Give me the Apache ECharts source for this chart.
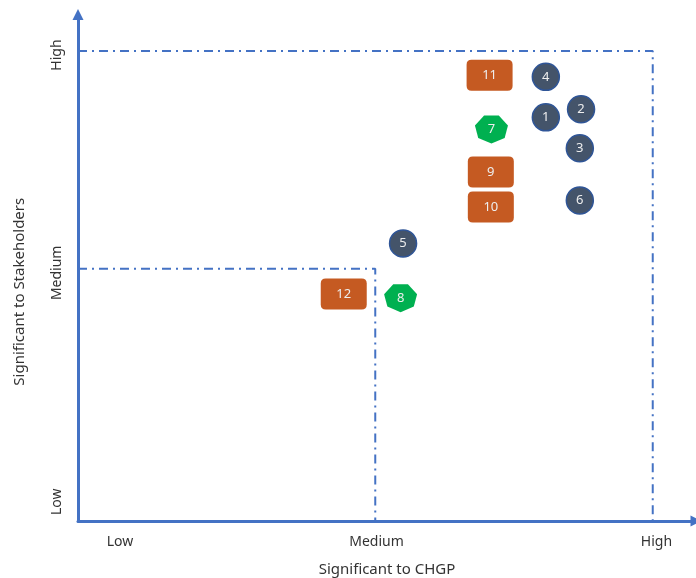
<!DOCTYPE html>
<html>
<head>
<meta charset="utf-8">
<script src="https://cdn.jsdelivr.net/npm/echarts@6/dist/echarts.min.js"></script>
<style>
html,body{margin:0;padding:0;background:#fff;}
#chart{width:696px;height:578px;}
</style>
</head>
<body>
<div id="chart"></div>
<script>
// Significance scores (0-10 scale)
var circleIds = ['1', '2', '3', '4', '5', '6'];
var circleX   = [7.57, 8.14, 8.12, 7.57, 5.26, 8.12];
var circleY   = [7.97, 8.13, 7.36, 8.77, 5.48, 6.33];

var rectIds = ['9', '10', '11', '12'];
var rectX   = [6.68, 6.68, 6.66, 4.30];
var rectY   = [6.89, 6.20, 8.80, 4.48];

var heptIds = ['7', '8'];
var heptX   = [6.69, 5.22];
var heptY   = [7.73, 4.40];

// Threshold levels (Medium / High) on each axis
var xMediumLevel = 4.81, xHighLevel = 9.30;
var yMediumLevel = 4.98, yHighLevel = 9.28;

// Tick labels
var xTickLabels = ['Low', 'Medium', 'High'];
var xTickValues = [0.68, 4.83, 9.36];
var yTickLabels = ['Low', 'Medium', 'High'];
var yTickValues = [0.38, 4.90, 9.20];

function pts(xs, ys, ids) {
  return xs.map(function (x, i) { return [x, ys[i], ids[i]]; });
}

var heptPath = 'path://M43.39,-90.1L97.49,-22.25L78.18,62.35L0,100L-78.18,62.35L-97.49,-22.25L-43.39,-90.1Z';
var rectPath = 'path://M5,0H41Q46,0,46,5V26Q46,31,41,31H5Q0,31,0,26V5Q0,0,5,0Z';
var FONT = 'Noto Sans';
var axisColor = '#4472C4';
var dashStyle = { color: axisColor, width: 2, type: [9, 5, 2, 5] };
var labelStyle = { show: true, position: 'inside', formatter: function (p) { return p.value[2]; }, color: '#EEEEEE', fontSize: 13, fontFamily: FONT };

var chart = echarts.init(document.getElementById('chart'), null, { renderer: 'canvas' });
chart.setOption({
  animation: false,
  textStyle: { fontFamily: FONT },
  grid: { left: 78, top: 14.5, width: 618, height: 506.5, containLabel: false, outerBoundsMode: 'none' },
  xAxis: {
    type: 'value', min: 0, max: 10,
    name: 'Significant to CHGP', nameLocation: 'middle', nameGap: 41,
    nameTextStyle: { fontSize: 15, color: '#333', fontFamily: FONT },
    axisLine: { show: true, lineStyle: { color: axisColor, width: 3 }, symbol: ['none', 'triangle'], symbolSize: [11, 11] },
    axisTick: { show: false },
    splitLine: { show: false },
    axisLabel: {
      customValues: xTickValues, margin: 14, fontSize: 14, color: '#333', fontFamily: FONT,
      formatter: function (v) { var i = xTickValues.indexOf(v); return i >= 0 ? xTickLabels[i] : ''; }
    }
  },
  yAxis: {
    type: 'value', min: 0, max: 10,
    name: 'Significant to Stakeholders', nameLocation: 'middle', nameGap: 51,
    nameTextStyle: { fontSize: 15, color: '#333', fontFamily: FONT, padding: [0, 48, 0, 0] },
    axisLine: { show: true, lineStyle: { color: axisColor, width: 3 }, symbol: ['none', 'triangle'], symbolSize: [11, 11] },
    axisTick: { show: false },
    splitLine: { show: false },
    axisLabel: {
      customValues: yTickValues, margin: 14, rotate: 90, fontSize: 14, color: '#333', fontFamily: FONT,
      formatter: function (v) { var i = yTickValues.indexOf(v); return i >= 0 ? yTickLabels[i] : ''; }
    }
  },
  series: [
    {
      type: 'line', silent: true, symbol: 'none', z: 1,
      data: [[0, yHighLevel], [xHighLevel, yHighLevel], [xHighLevel, 0]],
      lineStyle: dashStyle
    },
    {
      type: 'line', silent: true, symbol: 'none', z: 1,
      data: [[0, yMediumLevel], [xMediumLevel, yMediumLevel], [xMediumLevel, 0]],
      lineStyle: dashStyle
    },
    {
      type: 'scatter', z: 3,
      data: pts(circleX, circleY, circleIds),
      symbol: 'circle', symbolSize: 27,
      itemStyle: { color: '#44546A', borderColor: '#2F5597', borderWidth: 1.5, opacity: 1 },
      label: labelStyle
    },
    {
      type: 'scatter', z: 3,
      data: pts(rectX, rectY, rectIds),
      symbol: rectPath, symbolSize: [46, 31],
      itemStyle: { color: '#C55A22', opacity: 1 },
      label: labelStyle
    },
    {
      type: 'scatter', z: 3,
      data: pts(heptX, heptY, heptIds),
      symbol: heptPath, symbolSize: [33, 28],
      itemStyle: { color: '#00B050', opacity: 1 },
      label: labelStyle
    }
  ]
});
</script>
</body>
</html>
